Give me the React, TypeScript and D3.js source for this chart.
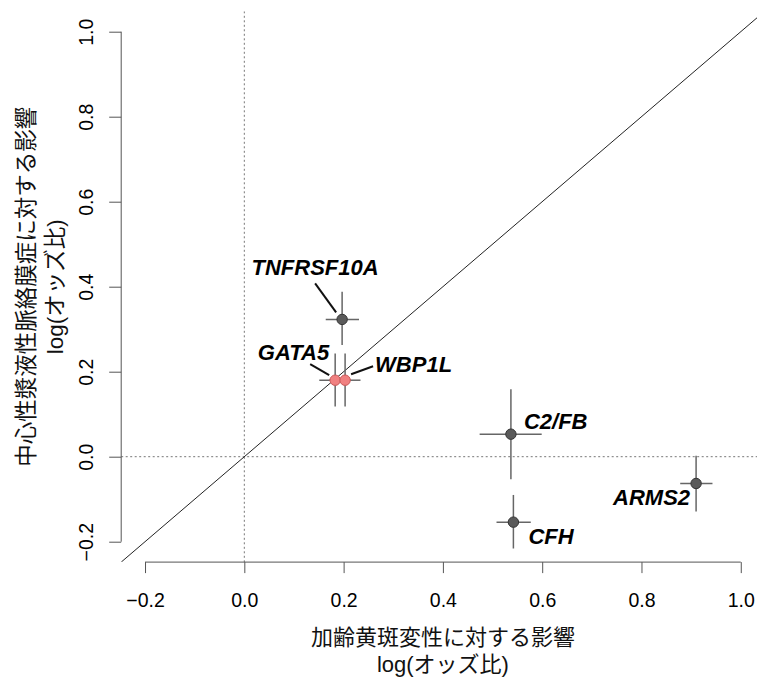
import React, { useRef, useEffect } from 'react';
import * as d3 from 'd3';

// gene-level effect estimates, log(odds ratio) with 95% CI
const genes = ['TNFRSF10A', 'GATA5', 'WBP1L', 'C2/FB', 'CFH', 'ARMS2'];
const amdEffect = [0.197, 0.183, 0.203, 0.537, 0.542, 0.910];
const amdLow = [0.164, 0.151, 0.171, 0.474, 0.508, 0.878];
const amdHigh = [0.231, 0.215, 0.234, 0.599, 0.577, 0.943];
const cscEffect = [0.323, 0.180, 0.180, 0.053, -0.154, -0.063];
const cscLow = [0.263, 0.118, 0.118, -0.053, -0.216, -0.129];
const cscHigh = [0.388, 0.243, 0.243, 0.159, -0.090, 0.002];
const highlighted = [false, true, true, false, false, false];

const tickValues = [-0.2, 0, 0.2, 0.4, 0.6, 0.8, 1.0];
const xTitle = ['加齢黄斑変性に対する影響', 'log(オッズ比)'];
const yTitle = ['中心性漿液性脈絡膜症に対する影響', 'log(オッズ比)'];

// label placement relative to the point (pixels): text offset, anchor, leader line
const labelPlace: Record<string, any> = {
  'TNFRSF10A': { dx: -27, dy: -44, anchor: 'middle', lead: [-27, -36, -6, -7] },
  'GATA5': { dx: -6, dy: -20, anchor: 'end', lead: [-25, -16, -6, -5] },
  'WBP1L': { dx: 30, dy: -8, anchor: 'start', lead: [6, -6, 28, -14] },
  'C2/FB': { dx: 13, dy: -5, anchor: 'start', lead: null },
  'CFH': { dx: 15, dy: 22, anchor: 'start', lead: null },
  'ARMS2': { dx: -6, dy: 22, anchor: 'end', lead: null },
};

const App = () => {
  const svgRef = useRef<SVGSVGElement>(null);

  useEffect(() => {
    const w = 757;
    const h = 680;
    const svg = d3.select(svgRef.current).attr('width', w).attr('height', h);
    svg.selectAll('*').remove();

    const latin = '"Liberation Sans", Arial, "Noto Sans CJK JP", sans-serif';

    // R-like usr extents (4% padding around -0.2..1.0)
    const x = d3.scaleLinear().domain([-0.248, 1.048]).range([121.2, 764.6]);
    const y = d3.scaleLinear().domain([-0.248, 1.048]).range([562.1, 11.3]);

    svg.append('defs').append('clipPath').attr('id', 'plotclip')
      .append('rect')
      .attr('x', x(-0.248)).attr('y', y(1.048))
      .attr('width', x(1.048) - x(-0.248)).attr('height', y(-0.248) - y(1.048));

    const plot = svg.append('g').attr('clip-path', 'url(#plotclip)');

    // reference lines
    plot.append('line')
      .attr('x1', x(0)).attr('x2', x(0)).attr('y1', y(1.048)).attr('y2', y(-0.248))
      .attr('stroke', '#777').attr('stroke-width', 1).attr('stroke-dasharray', '2,2.5');
    plot.append('line')
      .attr('x1', x(-0.248)).attr('x2', x(1.048)).attr('y1', y(0)).attr('y2', y(0))
      .attr('stroke', '#777').attr('stroke-width', 1).attr('stroke-dasharray', '2,2.5');
    plot.append('line')
      .attr('x1', x(-0.248)).attr('y1', y(-0.248)).attr('x2', x(1.048)).attr('y2', y(1.048))
      .attr('stroke', '#222').attr('stroke-width', 1);

    // error bars
    const idx = d3.range(genes.length);
    plot.selectAll('.hbar').data(idx).join('line')
      .attr('x1', i => x(amdLow[i])).attr('x2', i => x(amdHigh[i]))
      .attr('y1', i => y(cscEffect[i])).attr('y2', i => y(cscEffect[i]))
      .attr('stroke', '#666').attr('stroke-width', 1.5);
    plot.selectAll('.vbar').data(idx).join('line')
      .attr('x1', i => x(amdEffect[i])).attr('x2', i => x(amdEffect[i]))
      .attr('y1', i => y(cscLow[i])).attr('y2', i => y(cscHigh[i]))
      .attr('stroke', '#666').attr('stroke-width', 1.5);

    // leader lines
    idx.forEach(i => {
      const p = labelPlace[genes[i]];
      if (!p || !p.lead) return;
      const px = x(amdEffect[i]);
      const py = y(cscEffect[i]);
      plot.append('line')
        .attr('x1', px + p.lead[0]).attr('y1', py + p.lead[1])
        .attr('x2', px + p.lead[2]).attr('y2', py + p.lead[3])
        .attr('stroke', '#111').attr('stroke-width', 2);
    });

    // points
    plot.selectAll('.pt').data(idx).join('circle')
      .attr('cx', i => x(amdEffect[i])).attr('cy', i => y(cscEffect[i]))
      .attr('r', 5.2)
      .attr('fill', i => (highlighted[i] ? '#f08080' : '#5a5a5a'))
      .attr('stroke', i => (highlighted[i] ? '#c85a5a' : '#333'))
      .attr('stroke-width', 1);

    // gene labels
    svg.selectAll('.lab').data(idx).join('text')
      .attr('x', i => x(amdEffect[i]) + labelPlace[genes[i]].dx)
      .attr('y', i => y(cscEffect[i]) + labelPlace[genes[i]].dy)
      .attr('text-anchor', i => labelPlace[genes[i]].anchor)
      .attr('font-family', latin)
      .attr('font-size', 22)
      .attr('font-weight', 'bold')
      .attr('font-style', 'italic')
      .attr('fill', '#000')
      .text(i => genes[i]);

    // axes, R style: line spans first to last tick only
    const xAxisG = svg.append('g')
      .attr('transform', `translate(0, ${y(-0.248)})`)
      .call(d3.axisBottom(x).tickValues(tickValues).tickSize(11).tickPadding(20)
        .tickFormat(d3.format('.1f')));
    xAxisG.select('.domain').remove();
    xAxisG.append('line')
      .attr('x1', x(-0.2)).attr('x2', x(1.0)).attr('stroke', '#555');
    xAxisG.selectAll('.tick line').attr('stroke', '#555');
    xAxisG.selectAll('.tick text')
      .attr('font-family', latin).attr('font-size', 19.5).attr('fill', '#000')
      .text((d: any) => d3.format('.1f')(d).replace('-', '\u2212'));

    const yAxisG = svg.append('g')
      .attr('transform', `translate(${x(-0.248)}, 0)`)
      .call(d3.axisLeft(y).tickValues(tickValues).tickSize(12)
        .tickFormat(d3.format('.1f')));
    yAxisG.select('.domain').remove();
    yAxisG.append('line')
      .attr('y1', y(-0.2)).attr('y2', y(1.0)).attr('stroke', '#555');
    yAxisG.selectAll('.tick line').attr('stroke', '#555');
    yAxisG.selectAll('.tick text')
      .attr('x', null).attr('dy', null)
      .attr('transform', 'translate(-28,0) rotate(-90)')
      .attr('text-anchor', 'middle')
      .attr('font-family', latin).attr('font-size', 19.5).attr('fill', '#000')
      .text((d: any) => d3.format('.1f')(d).replace('-', '\u2212'));

    // axis titles
    const midX = (x(-0.248) + x(1.048)) / 2;
    const midY = (y(-0.248) + y(1.048)) / 2;
    svg.selectAll('.xt').data(xTitle).join('text')
      .attr('x', midX)
      .attr('y', (d, i) => 645 + i * 27)
      .attr('text-anchor', 'middle')
      .attr('font-family', latin).attr('font-size', 22).attr('fill', '#111')
      .text(d => d);
    svg.selectAll('.yt').data(yTitle).join('text')
      .attr('transform', (d, i) => `translate(${34 + i * 29}, ${midY}) rotate(-90)`)
      .attr('text-anchor', 'middle')
      .attr('font-family', latin).attr('font-size', 22.5).attr('fill', '#111')
      .text(d => d);
  }, []);

  return (
    <div>
      <svg ref={svgRef} style={{ position: 'absolute', left: 0, top: 0, display: 'block' }}></svg>
    </div>
  );
};

export default App;
